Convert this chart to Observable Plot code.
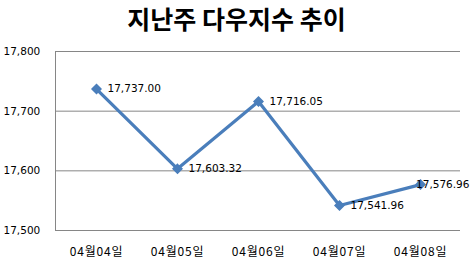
<!DOCTYPE html>
<html><head><meta charset="utf-8">
<script src="https://cdn.jsdelivr.net/npm/d3@7"></script>
<script src="https://cdn.jsdelivr.net/npm/@observablehq/plot@0.6"></script>
<style>
body{margin:0;background:#fff;width:473px;height:263px;overflow:hidden}
#title{height:40px;font-family:"Noto Sans CJK KR",sans-serif;font-weight:bold;font-size:25px;line-height:36px;text-align:center;color:#000;padding-left:0}
.xl text{letter-spacing:0.8px}
</style></head><body>
<div id="title">지난주 다우지수 추이</div>
<div id="chart"></div>
<script>
const dates = ["04월04일","04월05일","04월06일","04월07일","04월08일"];
const values = [17737.00, 17603.32, 17716.05, 17541.96, 17576.96];
const yTicks = [17500, 17600, 17700, 17800];

const data = dates.map((d, i) => ({date: d, value: values[i]}));
const last = data.slice(-1);
const rest = data.slice(0, -1);
const fmt = d3.format(",.2f");
const numFont = "DejaVu Sans, sans-serif";

const leftAxisLine = (index, scales, values, dim) => {
  const ys = scales.y;
  const x = dim.marginLeft + 0.5;
  return d3.create("svg:line")
    .attr("x1", x).attr("x2", x)
    .attr("y1", ys(17500)).attr("y2", ys(17800))
    .attr("stroke", "#868686").attr("stroke-width", 1).node();
};

const chart = Plot.plot({
  width: 473, height: 223,
  marginTop: 11, marginBottom: 33, marginLeft: 55, marginRight: 13,
  x: {type: "point", domain: dates, padding: 0.5, axis: null},
  y: {domain: [17500, 17800], axis: null},
  style: {background: "#fff"},
  marks: [
    Plot.ruleY(yTicks, {stroke: "#868686", strokeWidth: 1}),
    leftAxisLine,
    Plot.text(yTicks, {y: d => d, text: d3.format(","), frameAnchor: "left", dx: -52, textAnchor: "start", fontSize: 10.5, fontFamily: numFont, fill: "#000"}),
    Plot.text(dates, {x: d => d, y: () => 17500, text: d => d, dy: 22, fontSize: 12, fontFamily: "Noto Sans CJK KR, sans-serif", fill: "#000", className: "xl"}),
    Plot.line(data, {x: "date", y: "value", stroke: "#4A7EBB", strokeWidth: 3.2}),
    Plot.dot(data, {x: "date", y: "value", symbol: "diamond2", r: 4, fill: "#4A7EBB", stroke: "#4A7EBB"}),
    Plot.text(rest, {x: "date", y: "value", text: d => fmt(d.value), dx: 11, textAnchor: "start", fontSize: 10.5, fontFamily: numFont, fill: "#000"}),
    Plot.text(last, {x: "date", y: "value", text: d => fmt(d.value), dx: 49, textAnchor: "end", fontSize: 10.5, fontFamily: numFont, fill: "#000"})
  ]
});
document.getElementById("chart").appendChild(chart);
</script>
</body></html>
